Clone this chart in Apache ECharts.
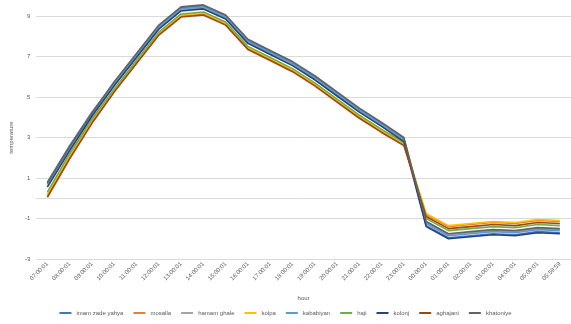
<!DOCTYPE html>
<html>
<head>
<meta charset="utf-8">
<script src="https://cdn.jsdelivr.net/npm/echarts@6/dist/echarts.min.js"></script>
<style>
html,body{margin:0;padding:0;background:#fff;}
#chart{width:571px;height:324px;}
</style>
</head>
<body>
<div id="chart"></div>
<script>
// hours on x axis
var hours = ['07:00:01','08:00:01','09:00:01','10:00:01','11:00:01','12:00:01','13:00:01','14:00:01',
	'15:00:01','16:00:01','17:00:01','18:00:01','19:00:01','20:00:01','21:00:01','22:00:01','23:00:01',
	'00:00:01','01:00:01','02:00:01','03:00:01','04:00:01','05:00:01','05:59:59'];

var names = ['imam zade yahya','mosalla','hamam ghale','kolpa','kababiyan','haji','kolonj','aghajani','khatoniye'];
var colors = ['#4472C4','#ED7D31','#A5A5A5','#FFC000','#5B9BD5','#70AD47','#264478','#9E480E','#636363'];

// temperature
var imamZadeYahya = [0.8,2.6,4.25,5.7,7.1,8.5,9.4,9.5,9.0,7.8,7.25,6.7,6.0,5.2,4.4,3.7,2.95,-1.35,-1.95,-1.85,-1.75,-1.8,-1.65,-1.7];
var mosalla = [0.1,2.0,3.75,5.3,6.7,8.1,9.0,9.1,8.6,7.4,6.85,6.3,5.6,4.8,4.0,3.3,2.65,-0.8,-1.4,-1.3,-1.2,-1.25,-1.1,-1.15];
var hamamGhale = [0.6,2.45,4.1,5.6,7.0,8.4,9.3,9.4,8.9,7.7,7.15,6.6,5.9,5.1,4.3,3.6,2.85,-1.2,-1.8,-1.7,-1.6,-1.65,-1.5,-1.55];
var kolpa = [0.2,2.1,3.85,5.35,6.75,8.15,9.05,9.15,8.65,7.45,6.9,6.35,5.65,4.85,4.05,3.35,2.7,-0.75,-1.35,-1.25,-1.15,-1.2,-1.05,-1.1];
var kababiyan = [0.7,2.5,4.15,5.65,7.05,8.45,9.35,9.45,8.95,7.75,7.2,6.65,5.95,5.15,4.35,3.65,2.9,-1.25,-1.85,-1.75,-1.65,-1.7,-1.55,-1.6];
var haji = [0.3,2.2,3.9,5.4,6.8,8.2,9.1,9.2,8.7,7.5,6.95,6.4,5.7,4.9,4.1,3.4,2.75,-1.0,-1.6,-1.5,-1.4,-1.45,-1.3,-1.35];
var kolonj = [0.55,2.35,4.05,5.55,6.95,8.35,9.25,9.35,8.85,7.65,7.1,6.55,5.85,5.05,4.25,3.55,2.8,-1.4,-2.0,-1.9,-1.8,-1.85,-1.7,-1.75];
var aghajani = [0.05,1.95,3.7,5.25,6.65,8.05,8.95,9.05,8.55,7.35,6.8,6.25,5.55,4.75,3.95,3.25,2.6,-0.9,-1.5,-1.4,-1.3,-1.35,-1.2,-1.25];
var khatoniye = [0.75,2.55,4.2,5.75,7.15,8.55,9.45,9.55,9.05,7.85,7.3,6.75,6.05,5.25,4.45,3.75,3.0,-1.15,-1.75,-1.65,-1.55,-1.6,-1.45,-1.5];

var allData = [imamZadeYahya,mosalla,hamamGhale,kolpa,kababiyan,haji,kolonj,aghajani,khatoniye];

var myChart = echarts.init(document.getElementById('chart'));

var series = [];
for (var i = 0; i < names.length; i++) {
	series.push({
		name: names[i],
		type: 'line',
		data: allData[i],
		symbol: 'none',
		clip: false, // peak goes above the 9 line
		lineStyle: { width: 1.6, color: colors[i] },
		itemStyle: { color: colors[i] }
	});
}

var option = {
	animation: false,
	color: colors,
	grid: { left: 26, right: -4, top: 16, bottom: 65 },
	legend: {
		data: names,
		bottom: 3,
		left: 'center',
		itemWidth: 12,
		itemHeight: 2,
		itemGap: 10,
		icon: 'rect',
		textStyle: { fontSize: 6, color: '#595959' }
	},
	xAxis: {
		type: 'category',
		data: hours,
		boundaryGap: true,
		name: 'hour',
		nameLocation: 'middle',
		nameGap: 36,
		nameTextStyle: { fontSize: 6, color: '#595959' },
		axisLine: { lineStyle: { color: '#d9d9d9' } },
		axisTick: { show: false },
		axisLabel: { rotate: 45, fontSize: 6, color: '#595959', margin: 4, interval: 0 }
	},
	yAxis: {
		type: 'value',
		min: -3,
		max: 9,
		interval: 2,
		name: 'temperature',
		nameLocation: 'middle',
		nameGap: 20,
		nameTextStyle: { fontSize: 6, color: '#595959' },
		axisLine: { show: false },
		axisTick: { show: false },
		splitLine: { lineStyle: { color: '#d9d9d9' } },
		axisLabel: { fontSize: 6, color: '#595959', margin: 6 }
	},
	series: series
};

myChart.setOption(option);
</script>
</body>
</html>
